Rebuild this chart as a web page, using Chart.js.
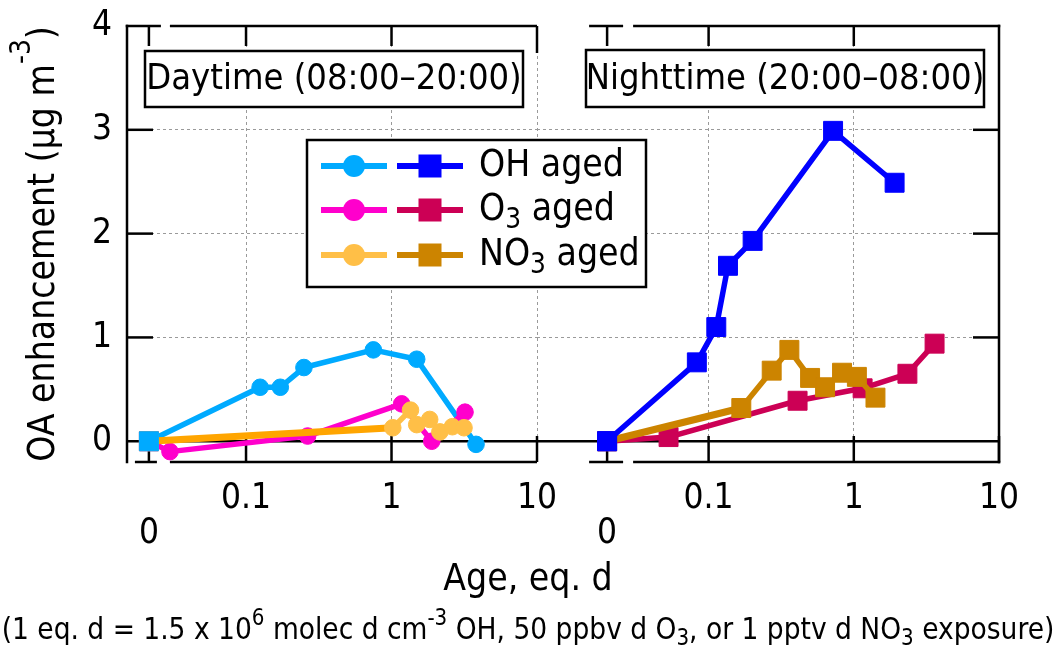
<!DOCTYPE html>
<html><head><meta charset="utf-8">
<script src="https://cdn.jsdelivr.net/npm/chart.js@4/dist/chart.umd.min.js"></script>
<style>
html,body{margin:0;padding:0;background:#fff;}
#wrap{position:relative;width:1056px;height:648px;overflow:hidden;}
canvas{position:absolute;left:0;top:0;}
</style></head><body>
<div id="wrap"><canvas id="day" width="1056" height="648"></canvas><canvas id="night" width="1056" height="648"></canvas></div>
<script>
const FONT = "'DejaVu Sans Condensed', 'DejaVu Sans', sans-serif";

// ---- tick labels ----
const xTickValues = [0, 0.1, 1, 10];
const xTickLabels = ['0', '0.1', '1', '10'];
const yTickValues = [0, 1, 2, 3, 4];
const yTickLabels = ['0', '1', '2', '3', '4'];
const legendLabels = ['OH aged', 'O3 aged', 'NO3 aged'];
const panelLabels = ['Daytime (08:00\u201320:00)', 'Nighttime (20:00\u201308:00)'];

// ---- daytime (age in eq. d, OA enhancement in ug m-3) ----
const dayAgeOH  = [0, 0.125, 0.172, 0.25, 0.75, 1.49, 3.81];
const dayOAOH   = [0, 0.52, 0.52, 0.71, 0.88, 0.79, -0.03];
const dayAgeO3  = [0, 0.030, 0.265, 1.175, 1.89, 3.2];
const dayOAO3   = [0, -0.10, 0.05, 0.36, 0.00, 0.28];
const dayAgeNO3 = [0, 1.02, 1.35, 1.49, 1.83, 2.15, 2.62, 3.15];
const dayOANO3  = [0, 0.13, 0.30, 0.16, 0.21, 0.09, 0.14, 0.13];

// ---- nighttime ----
const nightAgeOH  = [0, 0.083, 0.113, 0.136, 0.201, 0.72, 1.91];
const nightOAOH   = [0, 0.76, 1.10, 1.69, 1.93, 2.99, 2.49];
const nightAgeO3  = [0, 0.053, 0.41, 1.15, 2.34, 3.6];
const nightOAO3   = [0, 0.04, 0.39, 0.51, 0.65, 0.94];
const nightAgeNO3 = [0, 0.168, 0.272, 0.36, 0.50, 0.634, 0.83, 1.05, 1.41];
const nightOANO3  = [0, 0.32, 0.68, 0.88, 0.61, 0.52, 0.66, 0.62, 0.42];

// where "0" sits on each broken log axis
const DAY_ZERO = 0.0215, NIGHT_ZERO = 0.020;

const C = {
  ohDay:'#00AAFF', o3Day:'#FF00CC', no3Day:'#FFBF47', no3DayFirst:'#FFA500',
  ohNight:'#0000FF', o3Night:'#CC0055', no3Night:'#CC8400'
};
const GRID = '#9a9a9a';
const BLACK = '#000';
const LW = 2.5;
const PLOT_TOP = 26, PLOT_BOTTOM = 462;

function pts(ages, oas, zero){ return ages.map((a,i)=>({x: a===0 ? zero : a, y: oas[i]})); }
function fnt(s){ return s + 'px ' + FONT; }

function series(label, ages, oas, zero, color, shape, order, firstColor, firstWidth){
  return {
    label, data: pts(ages, oas, zero), order,
    borderColor: color, backgroundColor: color, borderWidth: 5.5,
    pointStyle: c => c.dataIndex === 0 ? 'rect' : shape,
    pointRadius: c => (c.dataIndex === 0 || shape === 'rect') ? 13.4 : 8.3,
    pointBackgroundColor: color, pointBorderColor: color, pointBorderWidth: 1,
    borderJoinStyle: 'round', tension: 0, clip: false,
    segment: {
      borderColor: c => (firstColor && c.p0DataIndex === 0) ? firstColor : color,
      borderWidth: c => (firstWidth && c.p0DataIndex === 0) ? firstWidth : 5.5
    }
  };
}
function origin(ages, oas, zero, color){
  return { label:'origin', data: pts(ages.slice(0,1), oas.slice(0,1), zero), order: 0,
    showLine:false, pointStyle:'rect', pointRadius:13.4, backgroundColor:color,
    borderColor:color, pointBorderWidth:1, clip:false };
}

function line(ctx, x1, y1, x2, y2){ ctx.beginPath(); ctx.moveTo(x1,y1); ctx.lineTo(x2,y2); ctx.stroke(); }

function richWidth(ctx, parts, size){
  let w = 0;
  for (const p of parts){ ctx.font = fnt((p.sup||p.sub) ? size*0.75 : size); w += ctx.measureText(p.t).width; }
  return w;
}
function drawRich(ctx, parts, x, y, size, up, down){
  ctx.textBaseline = 'middle'; ctx.textAlign = 'left'; ctx.fillStyle = BLACK;
  for (const p of parts){
    const s = (p.sup||p.sub) ? size*0.75 : size;
    ctx.font = fnt(s);
    const dy = p.sup ? -up : (p.sub ? down : 0);
    ctx.fillText(p.t, x, y + dy);
    x += ctx.measureText(p.t).width;
  }
}
function subParts(str){ // "O3 aged" -> O + sub 3 + " aged"
  const m = str.match(/^([A-Z]+)(\d)(.*)$/);
  if (!m || str.startsWith('OH')) return [{t:str}];
  return [{t:m[1]},{t:m[2],sub:true},{t:m[3]}];
}

// forces the plot area to the exact box of the reference
const areaPlugin = {
  id: 'area',
  afterLayout(chart){
    const a = chart.chartArea;
    if (Math.abs(a.top - PLOT_TOP) > 0.01) {
      const ys = chart.scales.y;
      a.top = PLOT_TOP; a.height = a.bottom - a.top;
      ys.top = PLOT_TOP; ys.height = ys.bottom - ys.top;
      ys.configure();
      const xs = chart.scales.x; xs.configure && xs.configure();
    }
  }
};

function framePlugin(cfg){
  return {
    id: 'frame',
    beforeDatasetsDraw(chart){
      const ctx = chart.ctx, xs = chart.scales.x, ys = chart.scales.y, a = chart.chartArea;
      const top = ys.getPixelForValue(4), bot = ys.getPixelForValue(-0.2), y0 = ys.getPixelForValue(0);
      const xz = xs.getPixelForValue(cfg.zero), x10 = xs.getPixelForValue(10);
      const xt1 = xs.getPixelForValue(0.1), xt2 = xs.getPixelForValue(1);
      ctx.save();
      ctx.strokeStyle = BLACK; ctx.lineWidth = LW; ctx.lineCap = 'butt';
      line(ctx, a.left, y0, a.right, y0);
      line(ctx, cfg.topStart(xz), top, xz + cfg.gapTop[0], top);
      line(ctx, xz + cfg.gapTop[1], top, x10 + (cfg.side==='right'?LW/2:0), top);
      line(ctx, cfg.botStart(xz), bot, xz + cfg.gapBot[0], bot);
      line(ctx, xz + cfg.gapBot[1], bot, x10 + (cfg.side==='right'?LW/2:0), bot);
      if (cfg.side === 'left') line(ctx, a.left, top - LW/2, a.left, bot + LW/2);
      else line(ctx, x10, top - LW/2, x10, bot + LW/2);
      for (const xp of [xz, xt1, xt2]) { line(ctx, xp, top, xp, top + 20); }
      for (const xp of [xt1, xt2, x10]) { line(ctx, xp, bot, xp, bot - 26); }
      line(ctx, xz, bot, xz, y0);
      if (cfg.side === 'left') line(ctx, x10, top, x10, top + 27);
      for (const v of [1,2,3]) {
        const yp = ys.getPixelForValue(v);
        if (cfg.side === 'left') line(ctx, a.left, yp, a.left + 26, yp);
        else line(ctx, x10 - 26, yp, x10, yp);
      }
      ctx.restore();
    }
  };
}

function panelLabelPlugin(text, box){
  return {
    id: 'panelLabel',
    afterDraw(chart){
      const ctx = chart.ctx;
      ctx.save();
      ctx.fillStyle = '#fff'; ctx.fillRect(box[0], box[1], box[2], box[3]);
      ctx.strokeStyle = BLACK; ctx.lineWidth = LW; ctx.strokeRect(box[0], box[1], box[2], box[3]);
      ctx.fillStyle = BLACK; ctx.font = fnt(36); ctx.textAlign = 'center'; ctx.textBaseline = 'middle';
      ctx.fillText(text, box[0] + box[2]/2, box[1] + box[3]/2 + 1);
      ctx.restore();
    }
  };
}

const yTitlePlugin = {
  id: 'yTitle',
  afterDraw(chart){
    const ctx = chart.ctx;
    const parts = [{t:'OA enhancement (\u00b5g m'},{t:'-3',sup:true},{t:')'}];
    ctx.save();
    ctx.translate(44, 244); ctx.rotate(-Math.PI/2);
    const w = richWidth(ctx, parts, 37);
    drawRich(ctx, parts, -w/2, 0, 37, 21, 10);
    ctx.restore();
  }
};

const overlayPlugin = {
  id: 'overlay',
  afterDraw(chart){
    const ctx = chart.ctx;
    ctx.save();
    ctx.fillStyle = BLACK; ctx.font = fnt(37); ctx.textAlign = 'center'; ctx.textBaseline = 'middle';
    ctx.fillText('Age, eq. d', 528, 580);
    const cap = [{t:'(1 eq. d = 1.5 x 10'},{t:'6',sup:true},{t:' molec d cm'},{t:'-3',sup:true},
      {t:' OH, 50 ppbv d O'},{t:'3',sub:true},{t:', or 1 pptv d NO'},{t:'3',sub:true},{t:' exposure)'}];
    let s = 36;
    while (richWidth(ctx, cap, s) > 1054 && s > 10) s -= 0.5;
    const cw = richWidth(ctx, cap, s);
    drawRich(ctx, cap, 528 - cw/2, 631, s, 12, 8);
    const L = {x:307, y:140, w:339, h:147};
    ctx.fillStyle = '#fff'; ctx.fillRect(L.x, L.y, L.w, L.h);
    ctx.strokeStyle = BLACK; ctx.lineWidth = LW; ctx.strokeRect(L.x, L.y, L.w, L.h);
    const rows = [166, 210, 255];
    const light = [C.ohDay, C.o3Day, C.no3Day], dark = [C.ohNight, C.o3Night, C.no3Night];
    rows.forEach((ry, i) => {
      ctx.lineWidth = 6; ctx.strokeStyle = light[i]; line(ctx, 321, ry, 387, ry);
      ctx.fillStyle = light[i]; ctx.beginPath(); ctx.arc(354, ry, 11, 0, Math.PI*2); ctx.fill();
      ctx.strokeStyle = dark[i]; line(ctx, 397, ry, 463, ry);
      ctx.fillStyle = dark[i]; ctx.fillRect(430 - 11.5, ry - 11.5, 23, 23);
      drawRich(ctx, subParts(legendLabels[i]), 479, ry, 37, 10, 11);
    });
    ctx.restore();
  }
};

function xScale(min, zero){
  return {
    type: 'logarithmic', min, max: 10, position: 'bottom',
    afterBuildTicks: s => { s.ticks = xTickValues.map(v => ({value: v === 0 ? zero : v})); },
    afterFit: s => { s.height = 648 - PLOT_BOTTOM; },
    grid: { drawTicks: false, lineWidth: 1,
      color: c => (c.tick && (c.tick.value === 0.1 || c.tick.value === 1 || (c.tick.value === 10 && min > 0.01))) ? GRID : 'rgba(0,0,0,0)' },
    border: { display: false, dash: [3, 3] },
    ticks: { autoSkip: false, maxRotation: 0, minRotation: 0, padding: 19, color: BLACK,
      font: { family: FONT, size: 35, lineHeight: 1.0 },
      callback: (v, i) => i === 0 ? ['', xTickLabels[0]] : xTickLabels[i] }
  };
}
function yScale(showLabels){
  return {
    min: -0.2, max: 4,
    afterBuildTicks: s => { s.ticks = yTickValues.map(v => ({value: v})); },
    afterFit: s => { s.width = showLabels ? 127 : 0; s.paddingTop = 0; s.paddingBottom = 0; },
    grid: { drawTicks: false, lineWidth: 1,
      color: c => (c.tick && c.tick.value > 0 && c.tick.value < 4) ? GRID : 'rgba(0,0,0,0)' },
    border: { display: false, dash: [3, 3] },
    ticks: { display: showLabels, padding: 15, color: BLACK, font: { family: FONT, size: 35 },
      callback: (v, i) => yTickLabels[i] }
  };
}

const common = { responsive: false, animation: false, events: [],
  plugins: { legend: { display: false }, tooltip: { enabled: false } } };

new Chart(document.getElementById('day'), {
  type: 'line',
  data: { datasets: [
    origin(dayAgeOH, dayOAOH, DAY_ZERO, C.ohDay),
    series('NO3 aged', dayAgeNO3, dayOANO3, DAY_ZERO, C.no3Day, 'circle', 1, C.no3DayFirst, 7),
    series('O3 aged', dayAgeO3, dayOAO3, DAY_ZERO, C.o3Day, 'circle', 2),
    series('OH aged', dayAgeOH, dayOAOH, DAY_ZERO, C.ohDay, 'circle', 3)
  ]},
  options: Object.assign({}, common, {
    layout: { autoPadding: false, padding: { left: 0, right: 519, top: PLOT_TOP, bottom: 0 } },
    scales: { x: xScale(0.0152, DAY_ZERO), y: yScale(true) }
  }),
  plugins: [
    areaPlugin,
    framePlugin({ zero: DAY_ZERO, side: 'left', topStart: () => 127 - LW/2, botStart: xz => xz - 14, gapTop: [12, 21], gapBot: [8, 21] }),
    panelLabelPlugin(panelLabels[0], [145, 51, 378, 56]),
    yTitlePlugin
  ]
});

new Chart(document.getElementById('night'), {
  type: 'line',
  data: { datasets: [
    origin(nightAgeOH, nightOAOH, NIGHT_ZERO, C.ohNight),
    series('OH aged', nightAgeOH, nightOAOH, NIGHT_ZERO, C.ohNight, 'rect', 1),
    series('NO3 aged', nightAgeNO3, nightOANO3, NIGHT_ZERO, C.no3Night, 'rect', 2, null, 7),
    series('O3 aged', nightAgeO3, nightOAO3, NIGHT_ZERO, C.o3Night, 'rect', 3)
  ]},
  options: Object.assign({}, common, {
    layout: { autoPadding: false, padding: { left: 537, right: 57, top: PLOT_TOP, bottom: 0 } },
    scales: { x: xScale(0.00658, NIGHT_ZERO), y: yScale(false) }
  }),
  plugins: [
    areaPlugin,
    framePlugin({ zero: NIGHT_ZERO, side: 'right', topStart: xz => xz - 18, botStart: xz => xz - 18, gapTop: [16, 26], gapBot: [16, 26] }),
    panelLabelPlugin(panelLabels[1], [586, 50, 398, 57]),
    overlayPlugin
  ]
});
</script>
</body></html>
